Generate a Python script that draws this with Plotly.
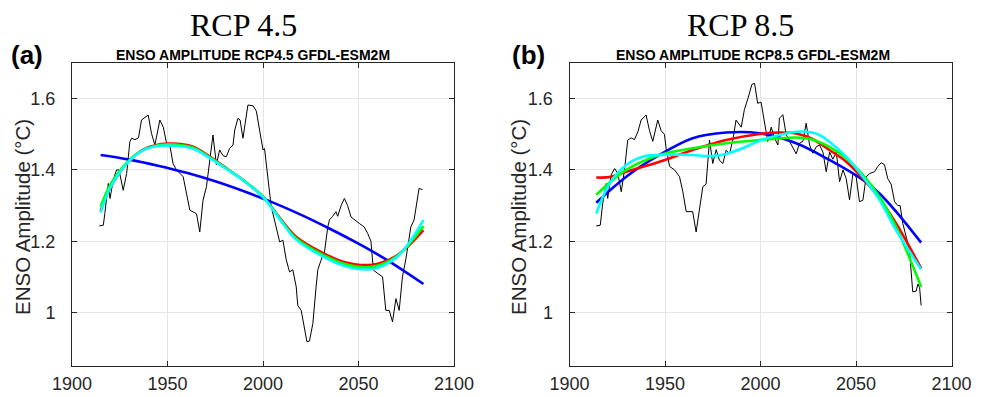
import plotly.graph_objects as go

W, H = 984, 397

# ---------------- Panel (a) RCP4.5 ----------------
a_years = [1914.3, 1916.4, 1917.2, 1919.0, 1919.9, 1921.6, 1923.3, 1924.6, 1926.8, 1928.6,
           1930.3, 1931.2, 1933.0, 1934.8, 1936.4, 1939.9, 1941.6, 1943.4, 1946.0, 1947.8,
           1949.5, 1951.2, 1952.9, 1954.7, 1958.2, 1959.9, 1961.7, 1964.3, 1965.2, 1966.9,
           1968.6, 1970.4, 1972.1, 1973.8, 1975.6, 1977.3, 1979.1, 1980.8, 1982.5, 1984.3,
           1985.2, 1986.9, 1988.0, 1989.5, 1992.1, 1994.8, 1996.5, 1998.2, 2000.0, 2000.8,
           2002.6, 2004.3, 2006.9, 2008.7, 2010.4, 2012.2, 2013.9, 2015.6, 2017.4, 2018.2,
           2020.0, 2021.7, 2023.0, 2024.3, 2026.1, 2027.8, 2028.7, 2030.4, 2032.2, 2033.9,
           2034.8, 2036.5, 2038.2, 2039.1, 2040.9, 2042.6, 2044.3, 2046.1, 2047.8, 2050.4,
           2053.0, 2054.8, 2056.5, 2057.8, 2060.0, 2062.6, 2064.3, 2066.1, 2067.8, 2069.6,
           2071.3, 2073.0, 2074.8, 2077.4, 2079.1, 2081.7, 2083.5]
a_amp = [1.243, 1.245, 1.278, 1.362, 1.320, 1.372, 1.400, 1.400, 1.343, 1.390,
         1.479, 1.489, 1.485, 1.490, 1.540, 1.554, 1.503, 1.470, 1.540, 1.520,
         1.475, 1.470, 1.418, 1.400, 1.381, 1.334, 1.287, 1.280, 1.277, 1.226,
         1.315, 1.353, 1.428, 1.498, 1.415, 1.456, 1.440, 1.437, 1.460, 1.470,
         1.512, 1.545, 1.540, 1.489, 1.582, 1.580, 1.565, 1.512, 1.456, 1.460,
         1.372, 1.297, 1.240, 1.198, 1.203, 1.147, 1.114, 1.120, 1.072, 1.020,
         1.006, 0.960, 0.918, 0.920, 0.969, 1.072, 1.120, 1.147, 1.170, 1.240,
         1.260, 1.270, 1.283, 1.270, 1.300, 1.320, 1.300, 1.268, 1.260, 1.250,
         1.240, 1.222, 1.200, 1.119, 1.110, 1.100, 1.006, 1.006, 0.974, 1.039,
         1.006, 1.100, 1.150, 1.240, 1.260, 1.348, 1.345]

a_blue_years = [1915, 1930, 1945, 1960, 1975, 1990, 2005, 2020, 2035, 2050, 2065, 2084]
a_blue = [1.442, 1.429, 1.412, 1.392, 1.368, 1.340, 1.309, 1.274, 1.235, 1.193, 1.147, 1.080]

a_fit_years = [1915, 1920, 1928.6, 1937, 1946, 1952, 1963, 1972, 1981, 1990,
               2000, 2009, 2017, 2031, 2043, 2057, 2070, 2084]
a_red = [1.285, 1.350, 1.418, 1.456, 1.472, 1.474, 1.466, 1.438, 1.404, 1.370,
         1.325, 1.264, 1.214, 1.168, 1.141, 1.134, 1.160, 1.231]
a_green = [1.297, 1.358, 1.420, 1.455, 1.470, 1.472, 1.463, 1.436, 1.403, 1.370,
           1.325, 1.262, 1.210, 1.163, 1.136, 1.128, 1.158, 1.243]
a_cyan = [1.280, 1.350, 1.417, 1.455, 1.468, 1.468, 1.460, 1.434, 1.402, 1.369,
          1.324, 1.260, 1.206, 1.158, 1.130, 1.122, 1.155, 1.259]

# ---------------- Panel (b) RCP8.5 ----------------
b_years = [1914.0, 1916.1, 1917.4, 1919.2, 1920.0, 1921.8, 1923.6, 1925.3, 1927.1, 1928.8,
           1930.5, 1932.3, 1934.0, 1935.8, 1937.5, 1940.1, 1941.9, 1943.6, 1946.2, 1948.0,
           1949.7, 1950.6, 1952.4, 1955.0, 1957.6, 1959.3, 1961.1, 1964.5, 1966.3, 1968.1,
           1969.8, 1971.5, 1973.3, 1975.0, 1976.8, 1978.5, 1980.3, 1982.0, 1983.8, 1985.5,
           1987.2, 1989.9, 1991.6, 1993.4, 1995.5, 1996.9, 1998.5, 2000.3, 2002.1, 2003.8,
           2005.6, 2007.3, 2009.1, 2009.9, 2011.7, 2013.4, 2015.2, 2017.8, 2018.7, 2020.4,
           2022.2, 2023.9, 2025.7, 2027.4, 2029.2, 2030.9, 2032.7, 2034.4, 2036.2, 2037.9,
           2039.7, 2041.4, 2043.2, 2044.9, 2046.6, 2048.4, 2050.1, 2051.8, 2053.6, 2055.3,
           2057.1, 2059.7, 2061.4, 2063.2, 2064.9, 2066.6, 2068.4, 2070.2, 2071.9, 2073.1,
           2074.5, 2076.3, 2078.0, 2079.7, 2081.5, 2082.4, 2083.3, 2084.1]
b_amp = [1.243, 1.245, 1.306, 1.362, 1.320, 1.386, 1.404, 1.390, 1.339, 1.400,
         1.484, 1.490, 1.485, 1.507, 1.540, 1.554, 1.510, 1.480, 1.540, 1.510,
         1.500, 1.460, 1.410, 1.400, 1.381, 1.340, 1.283, 1.283, 1.226, 1.297,
         1.353, 1.360, 1.484, 1.418, 1.457, 1.427, 1.418, 1.455, 1.445, 1.484,
         1.540, 1.520, 1.570, 1.600, 1.640, 1.643, 1.587, 1.590, 1.535, 1.480,
         1.520, 1.490, 1.470, 1.545, 1.555, 1.500, 1.480, 1.456, 1.445, 1.475,
         1.480, 1.531, 1.470, 1.447, 1.465, 1.470, 1.450, 1.395, 1.450, 1.430,
         1.450, 1.367, 1.400, 1.375, 1.316, 1.390, 1.380, 1.311, 1.315, 1.380,
         1.390, 1.395, 1.410, 1.420, 1.415, 1.376, 1.360, 1.311, 1.300, 1.300,
         1.250, 1.212, 1.175, 1.058, 1.060, 1.080, 1.070, 1.020]

b_blue_years = [1914, 1929.7, 1947.1, 1964.5, 1982, 1999.5, 2018.7, 2036.1, 2053.6, 2062.3, 2071, 2084.1]
b_blue = [1.308, 1.381, 1.442, 1.489, 1.505, 1.503, 1.475, 1.428, 1.372, 1.334, 1.283, 1.196]

b_red_years = [1914, 1921, 1929.7, 1947.1, 1964.5, 1982, 1999.5, 2009.9, 2018.7, 2027.4,
               2036.1, 2044.9, 2053.6, 2062.3, 2071, 2084.1]
b_red = [1.379, 1.380, 1.395, 1.423, 1.456, 1.484, 1.501, 1.505, 1.502, 1.486,
         1.456, 1.423, 1.376, 1.320, 1.250, 1.124]

b_green_years = [1914, 1929.7, 1947.1, 1964.5, 1982, 1999.5, 2018.7, 2027.4, 2036.1,
                 2044.9, 2053.6, 2062.3, 2071, 2084.1]
b_green = [1.330, 1.400, 1.442, 1.461, 1.475, 1.484, 1.491, 1.485, 1.465,
           1.433, 1.386, 1.325, 1.240, 1.072]

b_cyan_years = [1914, 1921, 1929.7, 1938.4, 1947.1, 1955.8, 1964.5, 1973.3, 1982, 1990.7,
                1999.5, 2010, 2018.7, 2023.9, 2030.9, 2036.1, 2044.9, 2053.6, 2062.3, 2071, 2084.1]
b_cyan = [1.278, 1.362, 1.414, 1.437, 1.442, 1.443, 1.442, 1.439, 1.445, 1.461,
          1.482, 1.498, 1.507, 1.507, 1.498, 1.479, 1.437, 1.381, 1.316, 1.231, 1.121]

x_ticks = [1900, 1950, 2000, 2050, 2100]
y_ticks = [1, 1.2, 1.4, 1.6]
y_tick_text = ["1", "1.2", "1.4", "1.6"]
panel_titles = ["RCP 4.5", "RCP 8.5"]
panel_subtitles = ["ENSO AMPLITUDE RCP4.5 GFDL-ESM2M", "ENSO AMPLITUDE RCP8.5 GFDL-ESM2M"]
panel_letters = ["(a)", "(b)"]
y_label = "ENSO Amplitude (°C)"

SANS = "Liberation Sans, Arial, Helvetica, sans-serif"
SERIF = "Liberation Serif, Times New Roman, serif"

fig = go.Figure()


def add_panel(xa, ya, years, amp, blue_x, blue_y, red_x, red_y, green_x, green_y, cyan_x, cyan_y):
    fig.add_trace(go.Scatter(x=years, y=amp, mode="lines", line=dict(color="black", width=1),
                             xaxis=xa, yaxis=ya, showlegend=False, hoverinfo="skip"))
    for xs, ys, c in [(blue_x, blue_y, "#0000ff"), (red_x, red_y, "#ff0000"),
                      (green_x, green_y, "#00ff00"), (cyan_x, cyan_y, "#00ffff")]:
        fig.add_trace(go.Scatter(x=xs, y=ys, mode="lines",
                                 line=dict(color=c, width=2.6, shape="spline", smoothing=1.0),
                                 xaxis=xa, yaxis=ya, showlegend=False, hoverinfo="skip"))


add_panel("x", "y", a_years, a_amp, a_blue_years, a_blue, a_fit_years, a_red,
          a_fit_years, a_green, a_fit_years, a_cyan)
add_panel("x2", "y2", b_years, b_amp, b_blue_years, b_blue, b_red_years, b_red,
          b_green_years, b_green, b_cyan_years, b_cyan)


def px_x(p):
    return p / W


def px_y(p):
    return 1 - p / H


ydom = [px_y(366), px_y(63)]
axis_common = dict(showline=True, linecolor="#262626", linewidth=1, mirror="ticks",
                   ticks="inside", ticklen=5, tickcolor="#262626", tickwidth=1,
                   showgrid=True, gridcolor="#e6e6e6", gridwidth=1, zeroline=False,
                   tickfont=dict(family=SANS, size=18, color="#262626"), automargin=False)

xcommon = dict(axis_common, range=[1900, 2100], tickvals=x_ticks, ticklabelstandoff=1)
ycommon = dict(axis_common, range=[0.85, 1.7], tickvals=y_ticks, ticktext=y_tick_text,
               ticklabelstandoff=12)

fig.update_layout(
    width=W, height=H, template="none",
    paper_bgcolor="white", plot_bgcolor="white",
    margin=dict(l=0, r=0, t=0, b=0),
    xaxis=dict(xcommon, domain=[px_x(72), px_x(454)], anchor="y"),
    yaxis=dict(ycommon, domain=ydom, anchor="x"),
    xaxis2=dict(xcommon, domain=[px_x(569.5), px_x(951.5)], anchor="y2"),
    yaxis2=dict(ycommon, domain=ydom, anchor="x2"),
)

annotations = []
for i, (tx, sx, lx, ylx) in enumerate([(243, 253, 27, 22), (740, 753, 528, 518)]):
    annotations.append(dict(text=panel_titles[i], x=px_x(tx), y=px_y(25), xref="paper", yref="paper",
                            showarrow=False, xanchor="center", yanchor="middle",
                            font=dict(family=SERIF, size=32, color="black")))
    annotations.append(dict(text="<b>" + panel_subtitles[i] + "</b>", x=px_x(sx), y=px_y(55),
                            xref="paper", yref="paper", showarrow=False,
                            xanchor="center", yanchor="middle",
                            font=dict(family=SANS, size=14, color="black")))
    annotations.append(dict(text="<b>" + panel_letters[i] + "</b>", x=px_x(lx), y=px_y(55),
                            xref="paper", yref="paper", showarrow=False,
                            xanchor="center", yanchor="middle",
                            font=dict(family=SANS, size=26, color="black")))
    annotations.append(dict(text=y_label, x=px_x(ylx), y=px_y(217), xref="paper", yref="paper",
                            showarrow=False, xanchor="center", yanchor="middle", textangle=-90,
                            font=dict(family=SANS, size=20.5, color="#262626")))
fig.update_layout(annotations=annotations)

fig.write_html("out.html", config={"displayModeBar": False},
               post_script="document.body.style.margin='0';")
